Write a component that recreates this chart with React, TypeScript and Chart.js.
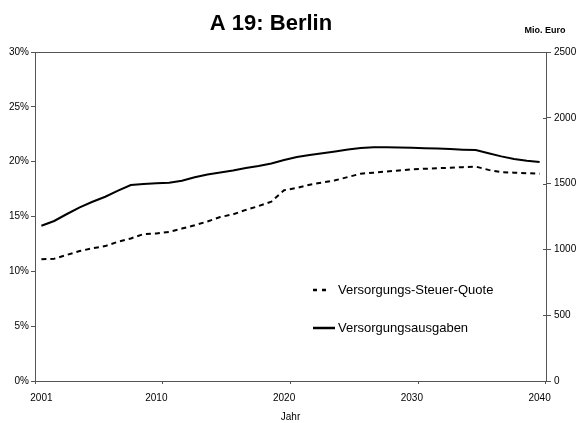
import React, { useEffect, useRef } from "react";
import { Chart, registerables } from "chart.js";

Chart.register(...registerables);

const TITLE = "A 19: Berlin";
const RIGHT_UNIT = "Mio. Euro";
const X_TITLE = "Jahr";

const years: string[] = [
  "2001", "2002", "2003", "2004", "2005", "2006", "2007", "2008", "2009", "2010",
  "2011", "2012", "2013", "2014", "2015", "2016", "2017", "2018", "2019", "2020",
  "2021", "2022", "2023", "2024", "2025", "2026", "2027", "2028", "2029", "2030",
  "2031", "2032", "2033", "2034", "2035", "2036", "2037", "2038", "2039", "2040",
];

const shownYearLabels: string[] = ["2001", "2010", "2020", "2030", "2040"];

// Versorgungs-Steuer-Quote (%), left axis
const steuerQuote: number[] = [
  11.1, 11.15, 11.5, 11.85, 12.1, 12.3, 12.7, 13.0, 13.4, 13.45,
  13.6, 13.9, 14.2, 14.55, 14.95, 15.2, 15.6, 15.95, 16.35, 17.4,
  17.6, 17.9, 18.1, 18.3, 18.6, 18.9, 19.0, 19.1, 19.2, 19.3,
  19.35, 19.4, 19.45, 19.5, 19.55, 19.25, 19.05, 19.0, 18.95, 18.9,
];

// Versorgungsausgaben (Mio. Euro), right axis
const ausgaben: number[] = [
  1180, 1216, 1269, 1320, 1362, 1400, 1446, 1489, 1497, 1502,
  1507, 1522, 1548, 1569, 1584, 1600, 1619, 1634, 1653, 1679,
  1702, 1717, 1730, 1744, 1759, 1771, 1776, 1776, 1775, 1772,
  1769, 1766, 1762, 1758, 1755, 1730, 1707, 1687, 1674, 1664,
];

const seriesLabels: string[] = ["Versorgungs-Steuer-Quote", "Versorgungsausgaben"];

const AXIS = "#555555";
const FONT = "'Liberation Sans', Arial, sans-serif";

const decorPlugin = {
  id: "decor",
  afterDraw(chart: any) {
    const { ctx, chartArea } = chart;
    ctx.save();
    // top border of plot box
    ctx.strokeStyle = AXIS;
    ctx.lineWidth = 1;
    ctx.beginPath();
    ctx.moveTo(chartArea.left, chartArea.top + 0.5);
    ctx.lineTo(chartArea.right, chartArea.top + 0.5);
    ctx.stroke();
    // inward part of right-axis ticks
    const y1 = chart.scales.y1;
    ctx.beginPath();
    y1.ticks.forEach((t: any) => {
      const py = Math.round(y1.getPixelForValue(t.value)) + 0.5;
      ctx.moveTo(chartArea.right - 3, py);
      ctx.lineTo(chartArea.right, py);
    });
    ctx.stroke();

    // title
    ctx.fillStyle = "#000";
    ctx.textAlign = "center";
    ctx.textBaseline = "middle";
    ctx.font = `bold 22px ${FONT}`;
    ctx.fillText(TITLE, 271, 24);
    ctx.font = `bold 9px ${FONT}`;
    ctx.fillText(RIGHT_UNIT, 545, 31);

    // legend
    const items = chart.data.datasets;
    const lx = 313;
    const lys = [290, 328];
    items.forEach((ds: any, i: number) => {
      const y = lys[i];
      const dashed = ds.borderDash && ds.borderDash.length;
      ctx.strokeStyle = ds.borderColor;
      ctx.lineWidth = 2.5;
      ctx.setLineDash(dashed ? [4, 5] : []);
      ctx.beginPath();
      ctx.moveTo(lx, y);
      ctx.lineTo(lx + (dashed ? 18 : 22), y);
      ctx.stroke();
      ctx.setLineDash([]);
      ctx.fillStyle = "#000";
      ctx.textAlign = "left";
      ctx.textBaseline = "middle";
      ctx.font = `13px ${FONT}`;
      ctx.fillText(ds.label, lx + 25, y);
    });
    ctx.restore();
  },
};

export default function App() {
  const ref = useRef<HTMLCanvasElement | null>(null);

  useEffect(() => {
    if (!ref.current) return;
    Chart.defaults.font.family = FONT;
    const chart = new Chart(ref.current, {
      type: "line",
      data: {
        labels: years,
        datasets: [
          {
            label: seriesLabels[0],
            data: steuerQuote,
            yAxisID: "y",
            borderColor: "#000000",
            borderWidth: 2,
            borderDash: [5, 4],
            pointRadius: 0,
            tension: 0,
            fill: false,
          },
          {
            label: seriesLabels[1],
            data: ausgaben,
            yAxisID: "y1",
            borderColor: "#000000",
            borderWidth: 2,
            pointRadius: 0,
            tension: 0,
            fill: false,
          },
        ],
      },
      options: {
        responsive: false,
        animation: false,
        layout: { padding: { top: 52, left: 0, right: 0, bottom: 0 } },
        plugins: {
          legend: { display: false },
          title: { display: false },
          tooltip: { enabled: false },
        },
        scales: {
          x: {
            type: "category",
            offset: true,
            grid: {
              offset: true,
              drawOnChartArea: false,
              drawTicks: true,
              tickLength: 3,
              color: (c: any) =>
                c.type !== "tick" || c.index % 10 === 0 ? AXIS : "rgba(0,0,0,0)",
            },
            border: { display: true, color: AXIS, width: 1 },
            ticks: {
              autoSkip: false,
              maxRotation: 0,
              minRotation: 0,
              padding: 8,
              color: "#000",
              font: { size: 10, family: FONT },
              callback: function (this: any, value: any) {
                const lab = this.getLabelForValue(value);
                return shownYearLabels.includes(lab) ? lab : "";
              },
            },
            title: {
              display: true,
              text: X_TITLE,
              color: "#000",
              font: { size: 10, family: FONT },
              padding: { top: 0, bottom: 0 },
            },
            afterFit: (s: any) => {
              s.height = 42;
            },
          },
          y: {
            position: "left",
            min: 0,
            max: 30,
            ticks: {
              stepSize: 5,
              padding: 2,
              color: "#000",
              font: { size: 10, family: FONT },
              callback: (v: any) => `${v}%`,
            },
            grid: { drawOnChartArea: false, tickLength: 4, color: AXIS },
            border: { display: true, color: AXIS, width: 1 },
            afterFit: (s: any) => {
              s.width = 35;
            },
          },
          y1: {
            position: "right",
            min: 0,
            max: 2500,
            ticks: {
              stepSize: 500,
              padding: 3,
              color: "#000",
              font: { size: 10, family: FONT },
              callback: (v: any) => String(v),
            },
            grid: { drawOnChartArea: false, tickLength: 5, color: AXIS },
            border: { display: true, color: AXIS, width: 1 },
            afterFit: (s: any) => {
              s.width = 32;
            },
          },
        },
      },
      plugins: [decorPlugin],
    });
    return () => chart.destroy();
  }, []);

  return (
    <div style={{ position: "fixed", left: 0, top: 0, width: 578, height: 423, background: "#fff" }}>
      <canvas ref={ref} width={578} height={423} style={{ display: "block" }} />
    </div>
  );
}
